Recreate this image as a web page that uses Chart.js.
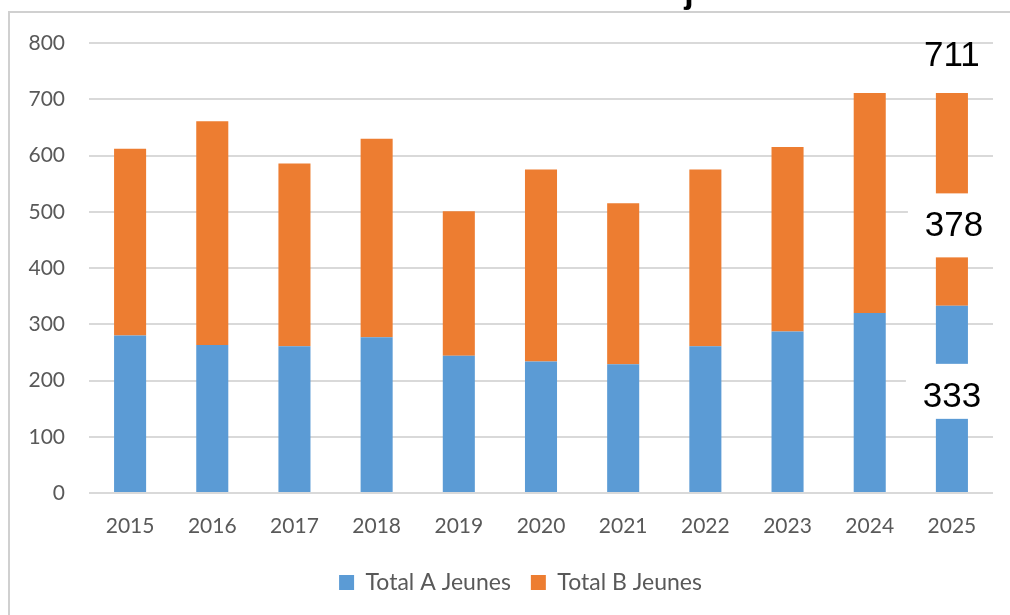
<!DOCTYPE html>
<html>
<head>
<meta charset="utf-8">
<script src="https://cdn.jsdelivr.net/npm/chart.js@4"></script>
<style>
  body { margin: 0; background: #fff; }
  #wrap { width: 1010px; height: 615px; position: relative; }
</style>
</head>
<body>
<div id="wrap"><canvas id="chart"></canvas></div>
<script>
const years = ['2015', '2016', '2017', '2018', '2019', '2020', '2021', '2022', '2023', '2024', '2025'];
const totalA = [280, 263, 261, 277, 244, 234, 229, 261, 287, 320, 333];
const totalB = [332, 398, 325, 353, 257, 341, 286, 314, 328, 391, 378];
const yTicks = [0, 100, 200, 300, 400, 500, 600, 700, 800];

const gray = '#595959';
const gridColor = '#D9D9D9';

// frame around the chart + cut off title at top
const framePlugin = {
    id: 'frame',
    afterLayout(chart) {
        // legend sits a bit right of center in the original
        chart.legend.left += 24;
        chart.legend.right += 24;
    },
    beforeDraw(chart) {
        const ctx = chart.ctx;
        ctx.save();
        ctx.fillStyle = '#fff';
        ctx.fillRect(0, 0, chart.width, chart.height);
        ctx.strokeStyle = '#D0D0D0';
        ctx.lineWidth = 2;
        ctx.strokeRect(9, 12, chart.width + 10, chart.height + 10);
        ctx.fillStyle = '#000';
        ctx.font = 'bold 34px "Liberation Sans"';
        ctx.textAlign = 'center';
        ctx.textBaseline = 'alphabetic';
        ctx.fillText('j', 689, 3);
        ctx.restore();
    }
};

// big value labels on the last bar, with white boxes
const lastLabels = {
    id: 'lastLabels',
    afterDatasetsDraw(chart) {
        const ctx = chart.ctx;
        const i = years.length - 1;
        const a = chart.getDatasetMeta(0).data[i];
        const b = chart.getDatasetMeta(1).data[i];
        const x = b.x;
        ctx.save();
        ctx.font = '35px "Liberation Sans"';
        ctx.textAlign = 'center';
        ctx.textBaseline = 'middle';

        let yB = (b.y + b.base) / 2 + 26;
        ctx.fillStyle = '#fff';
        ctx.fillRect(x - 44, yB - 32, 90, 64);
        ctx.fillStyle = '#000';
        ctx.fillText(String(totalB[i]), x + 2, yB + 1);

        let yA = (a.y + a.base) / 2 - 8;
        ctx.fillStyle = '#fff';
        ctx.fillRect(x - 46, yA - 27, 92, 55);
        ctx.fillStyle = '#000';
        ctx.fillText(String(totalA[i]), x, yA + 6);

        ctx.fillText(String(totalA[i] + totalB[i]), x, b.y - 37);
        ctx.restore();
    }
};

new Chart(document.getElementById('chart'), {
    type: 'bar',
    data: {
        labels: years,
        datasets: [{
            label: 'Total A Jeunes',
            data: totalA,
            backgroundColor: '#5B9BD5',
            barPercentage: 0.39,
            categoryPercentage: 1
        }, {
            label: 'Total B Jeunes',
            data: totalB,
            backgroundColor: '#ED7D31',
            barPercentage: 0.39,
            categoryPercentage: 1
        }]
    },
    options: {
        responsive: true,
        maintainAspectRatio: false,
        animation: false,
        layout: {
            padding: { left: 0, right: 17, top: 43, bottom: 11 }
        },
        scales: {
            x: {
                stacked: true,
                grid: { display: false },
                border: { display: false },
                ticks: {
                    color: gray,
                    padding: 13,
                    font: { family: 'Lato', size: 21 }
                },
                afterFit(scale) { scale.height = 58; }
            },
            y: {
                stacked: true,
                min: 0,
                max: 800,
                afterBuildTicks(scale) {
                    scale.ticks = yTicks.map(v => ({ value: v }));
                },
                grid: { color: gridColor, lineWidth: 2, drawTicks: false },
                border: { display: false },
                ticks: {
                    color: gray,
                    padding: 24,
                    font: { family: 'Lato', size: 21 }
                },
                afterFit(scale) { scale.width = 89; }
            }
        },
        plugins: {
            legend: {
                position: 'bottom',
                labels: {
                    color: gray,
                    boxWidth: 15,
                    boxHeight: 15,
                    padding: 20,
                    font: { family: 'Lato', size: 23 }
                }
            },
            tooltip: { enabled: false }
        }
    },
    plugins: [framePlugin, lastLabels]
});
</script>
</body>
</html>
